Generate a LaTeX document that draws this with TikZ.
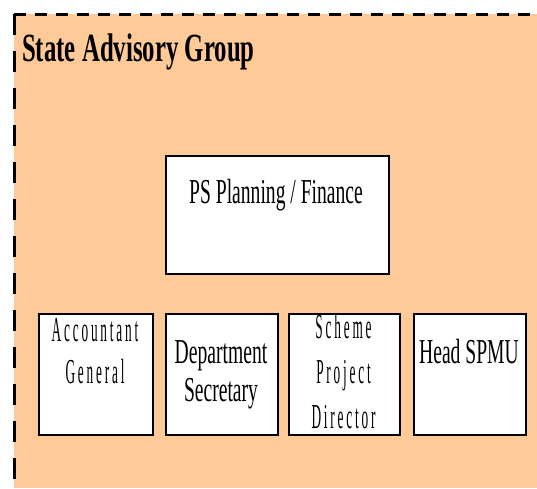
\documentclass[tikz,border=0pt]{standalone}
\usepackage{fontspec}
\setmainfont{Liberation Serif}
\newfontfamily\titlefont[FakeStretch=0.62]{Liberation Serif}
\newfontfamily\boxfont[FakeStretch=0.56]{Liberation Serif}
\newfontfamily\spacedfont[FakeStretch=0.38,LetterSpace=8]{Liberation Serif}
\definecolor{advisory}{RGB}{254,202,152}
\begin{document}
\begin{tikzpicture}[x=1pt,y=1pt,
	box/.style={draw,line width=1.6pt,fill=white,anchor=north west,inner sep=0pt},
	boxtext/.style={anchor=base,align=center,inner sep=0pt}]
	\useasboundingbox (0,0) rectangle (537,-488);
	\fill[advisory] (14,-14) rectangle (537,-488);
	\draw[line width=3pt,dash pattern=on 12pt off 9pt] (14,-14) -- (537,-14);
	\draw[line width=3pt,dash pattern=on 21pt off 16pt] (14,-14) -- (14,-488);
	\node[anchor=base west,inner sep=0pt,font=\titlefont\bfseries\fontsize{40}{44}\selectfont] (group) at (22,-61) {State Advisory Group};
	% boxes
	\node[box,minimum width=223pt,minimum height=118pt] (ps) at (165,-155) {};
	\node[box,minimum width=114pt,minimum height=121pt] (acc) at (38,-313) {};
	\node[box,minimum width=112pt,minimum height=121pt] (dept) at (165,-313) {};
	\node[box,minimum width=111pt,minimum height=121pt] (scheme) at (288,-313) {};
	\node[box,minimum width=112pt,minimum height=121pt] (head) at (413,-313) {};
	% texts (base = last line)
	\node[boxtext,font=\boxfont\fontsize{35}{38}\selectfont] (pstext) at (276,-203) {PS Planning / Finance};
	\node[boxtext,font=\spacedfont\fontsize{35}{42}\selectfont] (acctext) at (95,-383) {Accountant\\General};
	\node[boxtext,font=\boxfont\fontsize{35}{38}\selectfont] (depttext) at (221,-401) {Department\\Secretary};
	\node[boxtext,font=\spacedfont\fontsize{35}{45}\selectfont] (schemetext) at (343.5,-428) {Scheme\\Project\\Director};
	\node[boxtext,font=\boxfont\fontsize{35}{38}\selectfont] (headtext) at (469,-363) {Head SPMU};
\end{tikzpicture}
\end{document}
